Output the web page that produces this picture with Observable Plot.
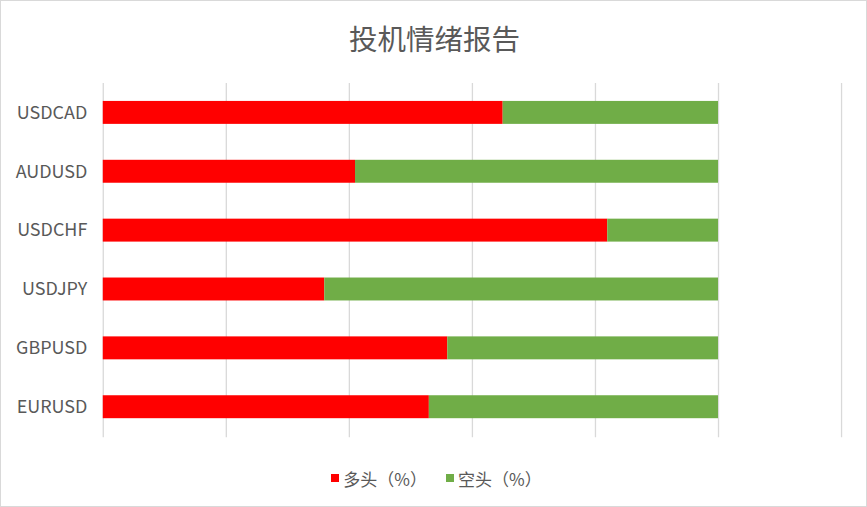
<!DOCTYPE html>
<html>
<head>
<meta charset="utf-8">
<script src="https://cdn.jsdelivr.net/npm/d3@7"></script>
<script src="https://cdn.jsdelivr.net/npm/@observablehq/plot@0.6"></script>
<style>
  html, body { margin: 0; padding: 0; background: #fff; }
  #chart {
    position: relative; width: 867px; height: 507px; box-sizing: border-box;
    border: 1px solid #d9d9d9; background: #fff; overflow: hidden;
    font-family: "Noto Sans CJK SC", "Noto Sans", sans-serif;
  }
  #title {
    position: absolute; left: 0; top: 0; width: 867px; height: 74px;
    text-align: center; line-height: 74px; font-size: 28.5px; color: #595959;
    font-family: "Noto Sans CJK SC", sans-serif;
  }
  #plot { position: absolute; left: -1px; top: 69px; }
  #legend {
    position: absolute; left: 2px; top: 462px; width: 867px; height: 30px;
    display: flex; justify-content: center; align-items: center; gap: 19px;
    font-size: 17px; color: #595959;
  }
  .item { display: flex; align-items: center; }
  .sw { width: 8px; height: 8px; margin-right: 4px; }
</style>
</head>
<body>
<div id="chart">
  <div id="title">投机情绪报告</div>
  <div id="plot"></div>
  <div id="legend"></div>
</div>
<script>
const pairs = ["USDCAD", "AUDUSD", "USDCHF", "USDJPY", "GBPUSD", "EURUSD"];
const longPct = [65, 41, 82, 36, 56, 53];
const shortPct = [35, 59, 18, 64, 44, 47];
const seriesNames = ["多头（%）", "空头（%）"];
const seriesColors = ["#ff0000", "#70ad47"];
const xTicks = [0, 20, 40, 60, 80, 100, 120];

const rows = [];
pairs.forEach((p, i) => {
  rows.push({pair: p, type: seriesNames[0], value: longPct[i]});
  rows.push({pair: p, type: seriesNames[1], value: shortPct[i]});
});

const svg = Plot.plot({
  width: 868,
  height: 378,
  marginLeft: 103,
  marginRight: 25,
  marginTop: 13,
  marginBottom: 10,
  style: {fontFamily: "'Noto Sans CJK SC', 'Noto Sans', sans-serif", fontSize: "18px", color: "#595959", background: "transparent"},
  x: {domain: [0, 120], axis: null},
  y: {domain: pairs, paddingInner: 0.61, paddingOuter: 0.305, label: null},
  color: {domain: seriesNames, range: seriesColors},
  marks: [
    Plot.ruleX(xTicks, {stroke: "#d9d9d9", strokeWidth: 1.3}),
    Plot.barX(rows, {y: "pair", x: "value", fill: "type", inset: 0}),
    Plot.axisY({tickSize: 0, tickPadding: 16, label: null, fontSize: 18, fill: "#595959"})
  ]
});
document.getElementById("plot").appendChild(svg);

const legend = document.getElementById("legend");
seriesNames.forEach((n, i) => {
  const it = document.createElement("div");
  it.className = "item";
  const sw = document.createElement("div");
  sw.className = "sw";
  sw.style.background = seriesColors[i];
  const t = document.createElement("span");
  t.textContent = n;
  it.appendChild(sw);
  it.appendChild(t);
  legend.appendChild(it);
});
</script>
</body>
</html>
